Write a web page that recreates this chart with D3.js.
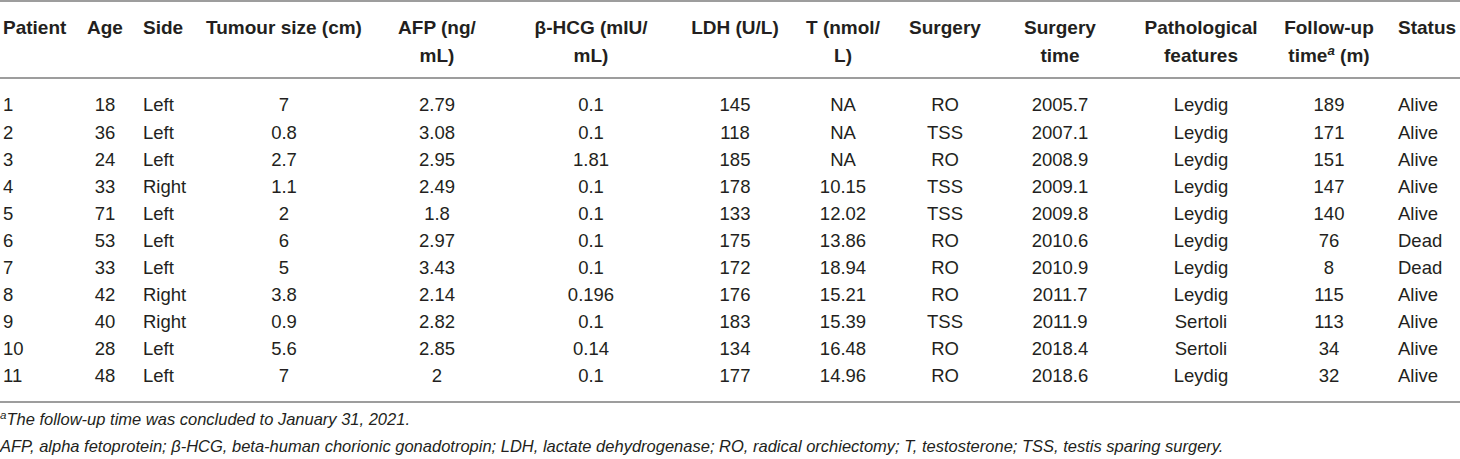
<!DOCTYPE html>
<html>
<head>
<meta charset="utf-8">
<script src="https://cdn.jsdelivr.net/npm/d3@7"></script>
<style>
  html, body { margin: 0; padding: 0; background: #fff; }
  svg { display: block; }
</style>
</head>
<body>
<script>
// ---- data ----
const patients     = [1, 2, 3, 4, 5, 6, 7, 8, 9, 10, 11];
const ages         = [18, 36, 24, 33, 71, 53, 33, 42, 40, 28, 48];
const sides        = ["Left", "Left", "Left", "Right", "Left", "Left", "Left", "Right", "Right", "Left", "Left"];
const tumourSizes  = [7, 0.8, 2.7, 1.1, 2, 6, 5, 3.8, 0.9, 5.6, 7];
const afpValues    = [2.79, 3.08, 2.95, 2.49, 1.8, 2.97, 3.43, 2.14, 2.82, 2.85, 2];
const hcgValues    = [0.1, 0.1, 1.81, 0.1, 0.1, 0.1, 0.1, 0.196, 0.1, 0.14, 0.1];
const ldhValues    = [145, 118, 185, 178, 133, 175, 172, 176, 183, 134, 177];
const tValues      = [null, null, null, 10.15, 12.02, 13.86, 18.94, 15.21, 15.39, 16.48, 14.96];
const surgeries    = ["RO", "TSS", "RO", "TSS", "TSS", "RO", "RO", "RO", "TSS", "RO", "RO"];
const surgeryTimes = ["2005.7", "2007.1", "2008.9", "2009.1", "2009.8", "2010.6", "2010.9", "2011.7", "2011.9", "2018.4", "2018.6"];
const pathology    = ["Leydig", "Leydig", "Leydig", "Leydig", "Leydig", "Leydig", "Leydig", "Leydig", "Sertoli", "Sertoli", "Leydig"];
const followUps    = [189, 171, 151, 147, 140, 76, 8, 115, 113, 34, 32];
const statuses     = ["Alive", "Alive", "Alive", "Alive", "Alive", "Dead", "Dead", "Alive", "Alive", "Alive", "Alive"];

const headerLine1 = ["Patient", "Age", "Side", "Tumour size (cm)", "AFP (ng/", "β-HCG (mIU/", "LDH (U/L)", "T (nmol/", "Surgery", "Surgery", "Pathological", "Follow-up", "Status"];
const headerLine2 = ["", "", "", "", "mL)", "mL)", "", "L)", "", "time", "features", "time|a| (m)", ""];
const footnotes = [
  "|a|The follow-up time was concluded to January 31, 2021.",
  "AFP, alpha fetoprotein; β-HCG, beta-human chorionic gonadotropin; LDH, lactate dehydrogenase; RO, radical orchiectomy; T, testosterone; TSS, testis sparing surgery."
];

// ---- layout ----
const W = 1460, H = 459;
const columns = [
  {vals: patients,     x: 3,    anchor: "start"},
  {vals: ages,         x: 105,  anchor: "middle"},
  {vals: sides,        x: 143,  anchor: "start"},
  {vals: tumourSizes,  x: 284,  anchor: "middle"},
  {vals: afpValues,    x: 437,  anchor: "middle"},
  {vals: hcgValues,    x: 591,  anchor: "middle"},
  {vals: ldhValues,    x: 735,  anchor: "middle"},
  {vals: tValues,      x: 843,  anchor: "middle"},
  {vals: surgeries,    x: 945,  anchor: "middle"},
  {vals: surgeryTimes, x: 1060, anchor: "middle"},
  {vals: pathology,    x: 1201, anchor: "middle"},
  {vals: followUps,    x: 1329, anchor: "middle"},
  {vals: statuses,     x: 1398, anchor: "start"}
];

const svg = d3.select("body").append("svg").attr("width", W).attr("height", H);
const font = "'Liberation Sans', Arial, Helvetica, sans-serif";
const textColor = "#231f20";
const ruleColor = "#9d9d9d";

// row centres: 105 + 27.1 * i
const y = d3.scaleBand().domain(patients).range([91.45, 389.55]).paddingInner(0).paddingOuter(0);

// rules
[1, 78, 402].forEach(v => {
  svg.append("line").attr("x1", 0).attr("x2", W).attr("y1", v).attr("y2", v)
    .attr("stroke", ruleColor).attr("stroke-width", 2);
});

function addRich(sel, str) {
  const parts = str.split("|");
  parts.forEach(p => {
    if (p === "a") {
      sel.append("tspan").attr("baseline-shift", "super").attr("font-size", "0.7em")
        .attr("font-style", "italic").text("a");
    } else if (p.length) {
      sel.append("tspan").text(p);
    }
  });
}

// header
const head = svg.append("g").attr("font-family", font).attr("font-weight", "bold")
  .attr("font-size", 19).attr("fill", textColor);
columns.forEach((c, i) => {
  const t1 = head.append("text").attr("x", c.x).attr("y", 34).attr("text-anchor", c.anchor);
  addRich(t1, headerLine1[i]);
  if (headerLine2[i]) {
    const t2 = head.append("text").attr("x", c.x).attr("y", 62).attr("text-anchor", c.anchor);
    addRich(t2, headerLine2[i]);
  }
});

// body
const body = svg.append("g").attr("font-family", font).attr("font-size", 18.5).attr("fill", textColor);
columns.forEach(c => {
  body.selectAll(null).data(c.vals.map((v, i) => ({v, p: patients[i]}))).enter()
    .append("text")
    .attr("x", c.x)
    .attr("y", d => y(d.p) + y.bandwidth() / 2)
    .attr("dy", "0.35em")
    .attr("text-anchor", c.anchor)
    .text(d => d.v === null ? "NA" : d.v);
});

// footnotes
const foot = svg.append("g").attr("font-family", font).attr("font-style", "italic")
  .attr("font-size", 16.5).attr("fill", textColor);
footnotes.forEach((f, i) => {
  const t = foot.append("text").attr("x", 0).attr("y", 425 + i * 27);
  addRich(t, f);
});
</script>
</body>
</html>
